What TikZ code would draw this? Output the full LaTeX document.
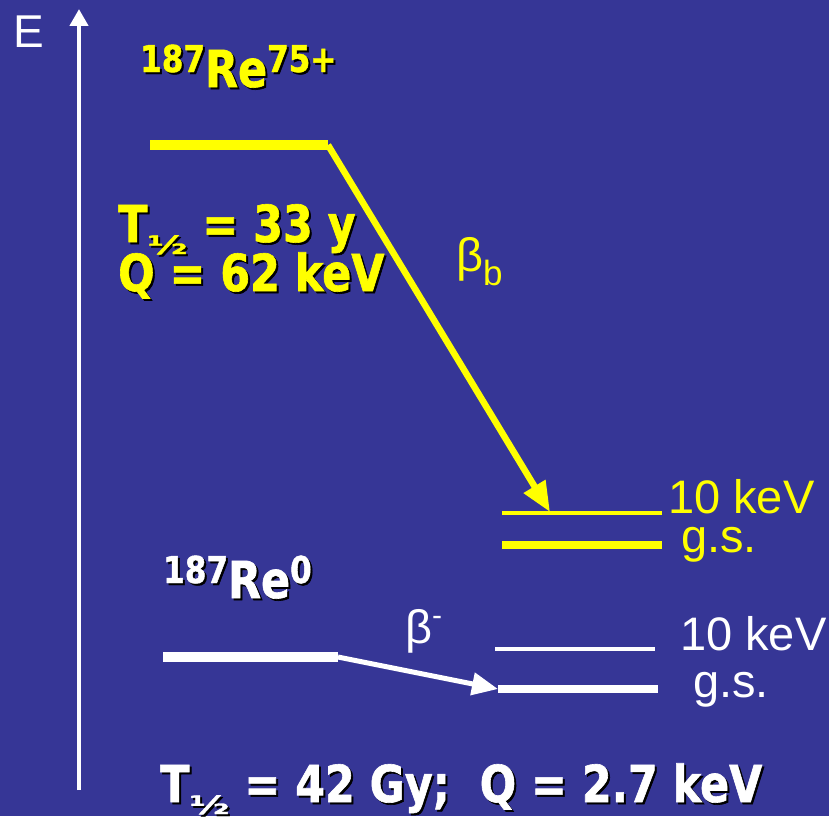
\documentclass[tikz,border=0pt]{standalone}
\usepackage{fontspec}
\setmainfont{Liberation Sans}
\newfontfamily\bfam{DejaVu Sans Bold}[FakeStretch=0.84,FakeBold=1.2]
\usetikzlibrary{arrows.meta}
\definecolor{bg}{RGB}{54,54,150}
\definecolor{yel}{RGB}{255,255,0}
\newcommand\halfsub{\raisebox{-12pt}{\scalebox{1}[0.55]{\fontsize{46}{46}\selectfont ½}}}
\newcommand\supsm[1]{\raisebox{15pt}{\fontsize{37}{37}\selectfont #1}}
\begin{document}
\begin{tikzpicture}[x=1pt,y=-1pt,
  lbl/.style={inner sep=0pt,anchor=base west,font=\fontsize{47}{47}\selectfont},
  boldtxt/.style={inner sep=0pt,anchor=base west,font=\bfam\fontsize{51}{51}\selectfont},
  shad/.style={text=black,xshift=2pt,yshift=-2pt},
  level/.style={line width=10pt},
  thinlevel/.style={line width=4pt},
  gslevel/.style={line width=8pt},
]
\fill[bg] (0,0) rectangle (829,816);
\useasboundingbox (0,0) rectangle (829,816);

% energy axis
\coordinate (axb) at (79,790);
\coordinate (axt) at (79,9);
\draw[white,line width=4.5pt,-{Triangle[length=17pt,width=18pt]}] (axb) -- (axt);
\node[lbl,white,font=\fontsize{46}{46}\selectfont] (E) at (13,48) {E};

% Re75+ label
\node[boldtxt,shad] (reAs) at (140,87) {\supsm{187}Re\supsm{75+}};
\node[boldtxt,text=yel] (reA) at (140,87) {\supsm{187}Re\supsm{75+}};

% upper level
\coordinate (ua) at (150,145);
\coordinate (ub) at (328,145);
\draw[yel,level] (ua) -- (ub);

\node[boldtxt,shad] (t1s) at (118,242) {T\halfsub\ = 33 y};
\node[boldtxt,text=yel] (t1) at (118,242) {T\halfsub\ = 33 y};
\node[boldtxt,shad] (q1s) at (118,291) {Q = 62 keV};
\node[boldtxt,text=yel] (q1) at (118,291) {Q = 62 keV};

% bound beta decay
\coordinate (ya) at (502,513);
\coordinate (yb) at (662,513);
\coordinate (yc) at (502,545);
\coordinate (yd) at (662,545);
\coordinate (ytip) at (550,512);
\draw[yel,thinlevel] (ya) -- (yb);
\draw[yel,gslevel] (yc) -- (yd);
\draw[yel,line width=6.5pt,-{Triangle[length=30pt,width=24pt]}] (ub) -- (ytip);
\node[lbl,text=yel] (bb) at (456,271) {β\raisebox{-14pt}{\fontsize{35}{35}\selectfont b}};
\node[lbl,text=yel] (y10) at (668,513) {10 keV};
\node[lbl,text=yel] (ygs) at (681,552) {g.s.};

% Re0 label
\node[boldtxt,shad] (reBs) at (163,598) {\supsm{187}Re\supsm{0}};
\node[boldtxt,text=white] (reB) at (163,598) {\supsm{187}Re\supsm{0}};

% lower level
\coordinate (la) at (163,657);
\coordinate (lb) at (338,657);
\draw[white,level] (la) -- (lb);
\coordinate (wa) at (495,649);
\coordinate (wb) at (655,649);
\coordinate (wc) at (498,689);
\coordinate (wd) at (658,689);
\draw[white,thinlevel] (wa) -- (wb);
\draw[white,gslevel] (wc) -- (wd);
\draw[white,line width=5pt,-{Triangle[length=26pt,width=22pt]}] (lb) -- (wc);
\node[lbl,text=white] (bm) at (405,643) {β\raisebox{18pt}{\fontsize{30}{30}\selectfont -}};
\node[lbl,text=white] (w10) at (680,650) {10 keV};
\node[lbl,text=white] (wgs) at (693,697) {g.s.};

% bottom text
\node[boldtxt,shad] (bts) at (160,802) {T\halfsub\ = 42 Gy;\ \ Q = 2.7 keV};
\node[boldtxt,text=white] (bt) at (160,802) {T\halfsub\ = 42 Gy;\ \ Q = 2.7 keV};
\end{tikzpicture}
\end{document}
